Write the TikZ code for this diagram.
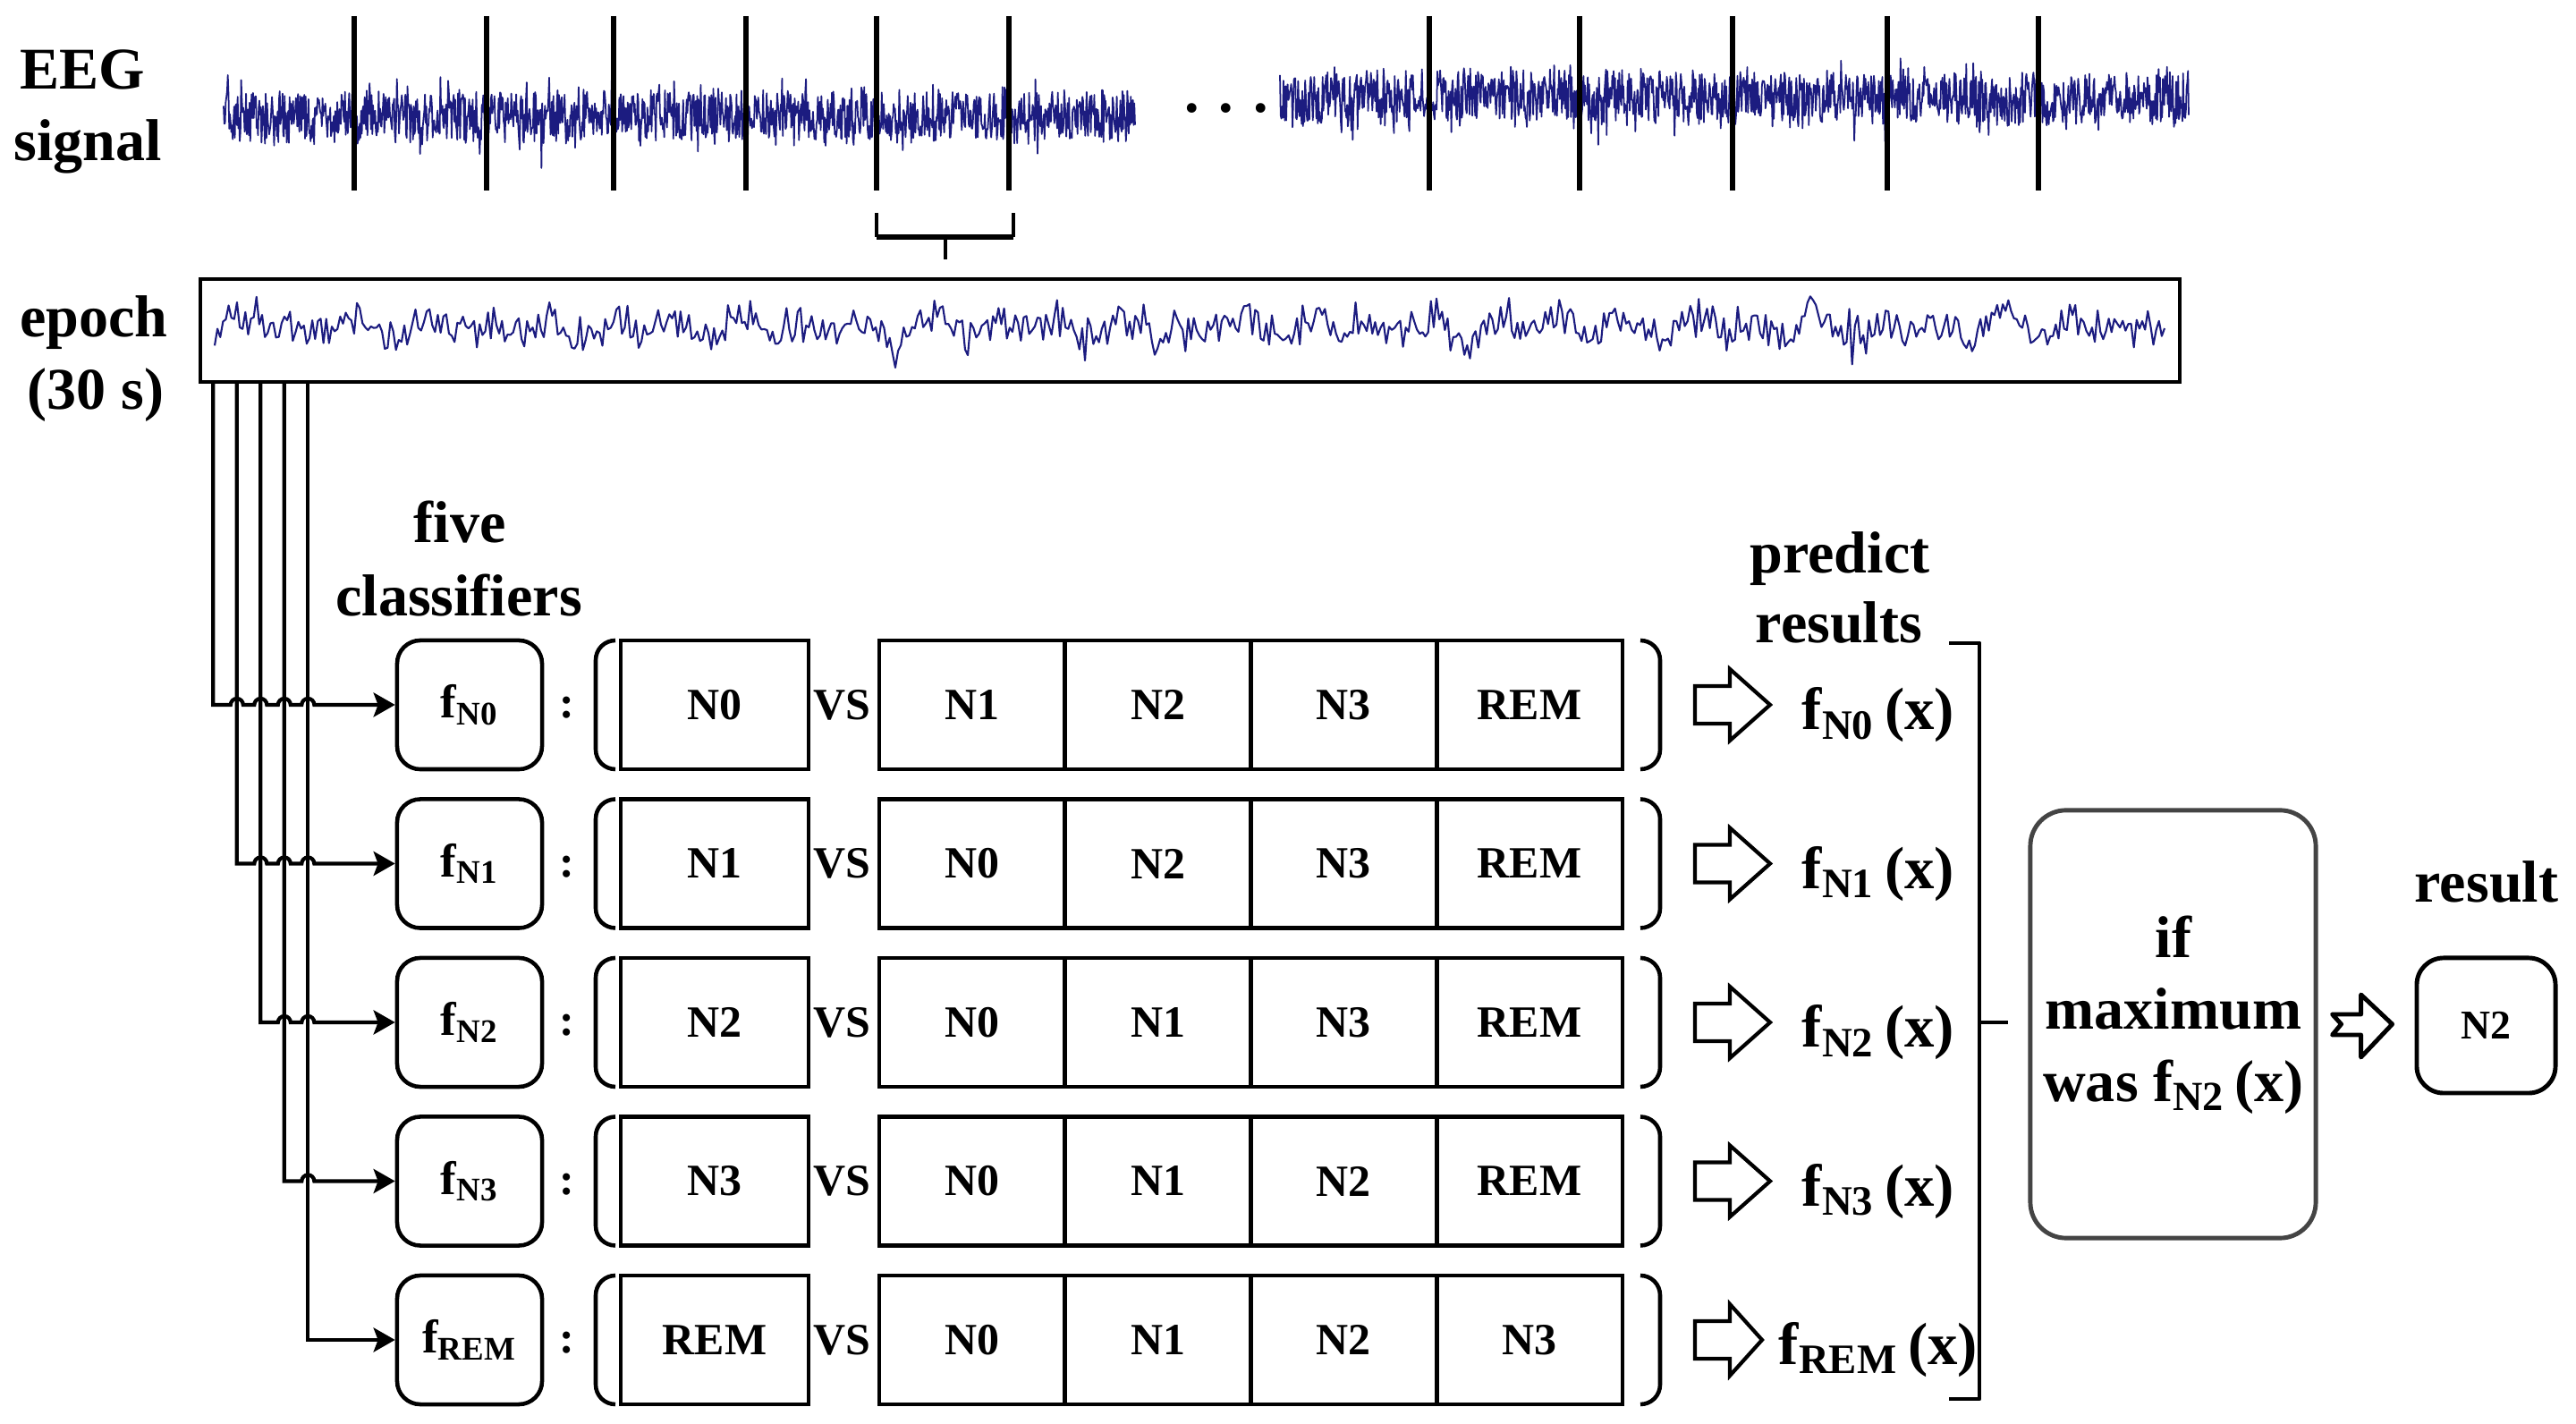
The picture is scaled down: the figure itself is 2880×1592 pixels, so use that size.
\documentclass[tikz,border=0pt]{standalone}
\usepackage{fontspec}
\setmainfont{Liberation Serif}
\usepackage{tikz}
\usetikzlibrary{arrows.meta,calc}

\definecolor{eegblue}{RGB}{28,28,128}
\definecolor{boxgray}{RGB}{68,68,68}

\begin{document}
\begin{tikzpicture}[x=0.01cm,y=-0.01cm,
    lab/.style={font=\fontsize{18.8}{22.8}\selectfont\bfseries,inner sep=0,anchor=base},
    cell/.style={draw,line width=1.3pt,minimum width=2.08cm,minimum height=1.44cm,
      inner sep=0,font=\fontsize{14.2}{16}\selectfont\bfseries},
    fbox/.style={draw,rounded corners=0.26cm,line width=1.3pt,minimum width=1.62cm,
      minimum height=1.44cm,inner sep=0,font=\fontsize{15}{17}\selectfont\bfseries},
    fres/.style={font=\fontsize{19}{23}\selectfont\bfseries,inner sep=0,anchor=base},
    bus/.style={line width=1.2pt,-{Stealth[length=0.24cm,width=0.27cm,inset=0.05cm]}},
    hollow/.style={line width=1.2pt,line join=miter},
    sig/.style={eegblue,line width=0.5pt,line join=round},
    cut/.style={line width=1.7pt},
    paren/.style={line width=1.3pt},
]
\useasboundingbox (0,0) rectangle (2880,1592);

% EEG signal
\pgfmathsetseed{11}
\draw[sig] plot[domain=250:1269,samples=1300,variable=\t]
  (\t,{130+28*rand+28*rand*rand*rand+55*rand*rand*rand*rand*rand});
\draw[sig] plot[domain=1431:2447,samples=1300,variable=\t]
  (\t,{110+28*rand+28*rand*rand*rand+55*rand*rand*rand*rand*rand});
\foreach \x in {396,544,686,834,980,1128,1598,1766,1937,2110,2279}
  \draw[cut] (\x,18) -- (\x,213);
\node[lab] (dots) at (1371,126) {. . .};
\node[lab] (eeg) at (92,100) {EEG};
\node[lab] (signal) at (98,180) {signal};

% bracket under one epoch
\draw[line width=1.2pt] (980,238) -- (980,265) (1133,265) -- (1133,238);
\draw[cut] (980,265) -- (1133,265);
\draw[line width=1.3pt] (1057,265) -- (1057,290);

% epoch
\node[draw,line width=1.15pt,minimum width=22.11cm,minimum height=1.15cm,inner sep=0]
  (epoch) at (1330.5,369.5) {};
\draw[eegblue,line width=0.6pt,line join=round] plot[domain=240:2420,samples=700,variable=\t]
  (\t,{366+7*sin(5.1*\t)+5*sin(3.3*\t+40)+17*rand+30*rand*rand*rand});
\node[lab] (ep) at (105,377) {epoch};
\node[lab] (ep2) at (107,458) {(30 s)};

\node[lab] (five) at (514,607) {five};
\node[lab] (clf) at (513,689) {classifiers};
\node[lab] (pred) at (2057,641) {predict};
\node[lab] (pred2) at (2056,719) {results};

% the five one-vs-rest classifiers
\foreach \i/\c/\a/\b/\d/\e/\l in {0/N0/N1/N2/N3/REM/45,1/N1/N0/N2/N3/REM/45,
    2/N2/N0/N1/N3/REM/45,3/N3/N0/N1/N2/REM/45,4/REM/N0/N1/N2/N3/36} {
  \pgfmathsetmacro\ry{788+177.5*\i}
  \node[fbox] (f\i) at (525,\ry) {f\textsubscript{\c}};
  \node[lab,font=\fontsize{14.2}{16}\selectfont\bfseries] (col\i) at (634,\ry+15) {:};
  \draw[paren] (688,\ry-72) to[out=180,in=90] (666,\ry-50) -- (666,\ry+50)
    to[out=-90,in=180] (688,\ry+72);
  \node[cell,minimum width=2.1cm] (one\i) at (799,\ry) {\c};
  \node[font=\fontsize{14.2}{16}\selectfont\bfseries,inner sep=0] (vs\i) at (941,\ry) {VS};
  \node[cell] (r\i a) at (1086.9,\ry) {\a};
  \node[cell] (r\i b) at (1294.6,\ry) {\b};
  \node[cell] (r\i c) at (1502.4,\ry) {\d};
  \node[cell] (r\i d) at (1710.1,\ry) {\e};
  \draw[paren] (1834,\ry-72) to[out=0,in=90] (1856,\ry-50) -- (1856,\ry+50)
    to[out=-90,in=0] (1834,\ry+72);
  \coordinate (imp\i) at (1895,\ry);
  \draw[hollow] (imp\i) ++(0,-21) -- ++(39,0) -- ++(0,-19) -- ++(\l,40)
    -- ++(-\l,40) -- ++(0,-19) -- ++(-39,0) -- cycle;
  \node[fres] (out\i) at (2100,\ry+28) {f\textsubscript{\c}\,(x)};
}

% bus from the epoch to the classifiers
\path (epoch.south west) ++(16,0) coordinate (t0) ++(26.5,0) coordinate (t1)
  ++(26.5,0) coordinate (t2) ++(26.5,0) coordinate (t3) ++(26.5,0) coordinate (t4);
\draw[bus] (t0) -- (t0 |- f0.west)
  -- ($(t1 |- f0.west)+(-7,0)$) arc[start angle=180,end angle=0,radius=0.07cm]
  -- ($(t2 |- f0.west)+(-7,0)$) arc[start angle=180,end angle=0,radius=0.07cm]
  -- ($(t3 |- f0.west)+(-7,0)$) arc[start angle=180,end angle=0,radius=0.07cm]
  -- ($(t4 |- f0.west)+(-7,0)$) arc[start angle=180,end angle=0,radius=0.07cm]
  -- (f0.west);
\draw[bus] (t1) -- (t1 |- f1.west)
  -- ($(t2 |- f1.west)+(-7,0)$) arc[start angle=180,end angle=0,radius=0.07cm]
  -- ($(t3 |- f1.west)+(-7,0)$) arc[start angle=180,end angle=0,radius=0.07cm]
  -- ($(t4 |- f1.west)+(-7,0)$) arc[start angle=180,end angle=0,radius=0.07cm]
  -- (f1.west);
\draw[bus] (t2) -- (t2 |- f2.west)
  -- ($(t3 |- f2.west)+(-7,0)$) arc[start angle=180,end angle=0,radius=0.07cm]
  -- ($(t4 |- f2.west)+(-7,0)$) arc[start angle=180,end angle=0,radius=0.07cm]
  -- (f2.west);
\draw[bus] (t3) -- (t3 |- f3.west)
  -- ($(t4 |- f3.west)+(-7,0)$) arc[start angle=180,end angle=0,radius=0.07cm]
  -- (f3.west);
\draw[bus] (t4) -- (t4 |- f4.west) -- (f4.west);

% decision
\draw[line width=1.4pt,line join=round] (2179,719) -- (2213,719) -- (2213,1564) -- (2179,1564);
\draw[line width=1.4pt] (2213,1143) -- (2245,1143);
\node[draw=boxgray,rounded corners=0.4cm,line width=1.4pt,minimum width=3.19cm,
  minimum height=4.78cm] (dec) at (2429.5,1145) {};
\node[lab] (if) at (2430,1071) {if};
\node[lab] (max) at (2430,1151) {maximum};
\node[lab] (was) at (2430,1232) {was f\textsubscript{N2}\,(x)};
\node[lab] (reslab) at (2780,1009) {result};
\node[draw,rounded corners=0.3cm,line width=1.4pt,minimum width=1.55cm,minimum height=1.51cm,
  font=\fontsize{13}{15}\selectfont\bfseries] (res) at (2779.5,1146.5) {N2};
\draw[line width=1.4pt,line join=round] (dec.east) ++(16,-11) -- ++(32,0) -- ++(0,-22)
  -- ++(35,33) -- ++(-35,37) -- ++(0,-25) -- ++(-32,0) -- ++(10,-12) -- cycle;
\end{tikzpicture}
\end{document}
